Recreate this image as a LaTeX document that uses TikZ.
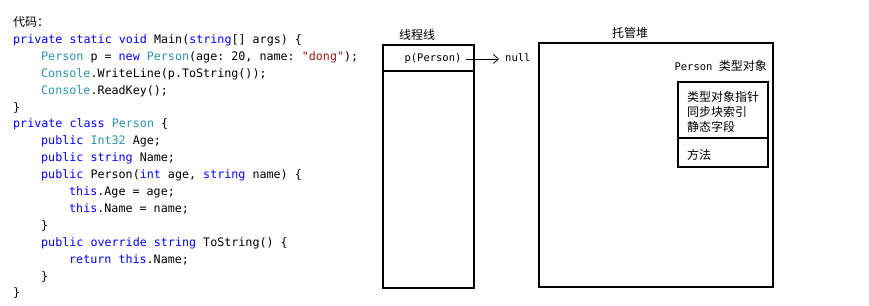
\documentclass[tikz,border=0pt]{standalone}
\usepackage{fontspec}
\setmonofont{DejaVu Sans Mono}
\newfontfamily\cjk{Noto Sans CJK SC}
\usetikzlibrary{arrows.meta}
\definecolor{kwblue}{RGB}{0,0,255}
\definecolor{tyteal}{RGB}{43,145,175}
\definecolor{strred}{RGB}{163,21,21}
\newcommand{\kw}[1]{\textcolor{kwblue}{#1}}
\newcommand{\ty}[1]{\textcolor{tyteal}{#1}}
\newcommand{\strlit}[1]{\textcolor{strred}{#1}}
\tikzset{codeline/.style={anchor=base west,inner sep=0pt,font=\fontsize{11.7}{14}\selectfont\ttfamily},
cjklabel/.style={inner sep=0pt,font=\fontsize{12}{15}\selectfont\cjk},
monolabel/.style={inner sep=2pt,font=\fontsize{10.5}{13}\selectfont\ttfamily},
memrect/.style={draw,line width=1.1pt,inner sep=0pt}}
\begin{document}
\begin{tikzpicture}[x=1pt,y=-1pt]
\useasboundingbox(0,0)rectangle(869,305);
\node[codeline,font=\fontsize{12}{15}\selectfont\cjk](c0)at(13,26.5){代码：};
\node[codeline](c1)at(13,43.4){\kw{private} \kw{static} \kw{void} Main(\kw{string}[] args) \{};
\node[codeline](c2)at(41,60.3){\ty{Person} p = \kw{new} \ty{Person}(age: 20, name: \strlit{"dong"});};
\node[codeline](c3)at(41,77.2){\ty{Console}.WriteLine(p.ToString());};
\node[codeline](c4)at(41,94.1){\ty{Console}.ReadKey();};
\node[codeline](c5)at(13,111){\}};
\node[codeline](c6)at(13,127.9){\kw{private} \kw{class} \ty{Person} \{};
\node[codeline](c7)at(41,144.8){\kw{public} \ty{Int32} Age;};
\node[codeline](c8)at(41,161.7){\kw{public} \kw{string} Name;};
\node[codeline](c9)at(41,178.6){\kw{public} Person(\kw{int} age, \kw{string} name) \{};
\node[codeline](c10)at(69,195.5){\kw{this}.Age = age;};
\node[codeline](c11)at(69,212.4){\kw{this}.Name = name;};
\node[codeline](c12)at(41,229.3){\}};
\node[codeline](c13)at(41,246.2){\kw{public} \kw{override} \kw{string} ToString() \{};
\node[codeline](c14)at(69,263.1){\kw{return} \kw{this}.Name;};
\node[codeline](c15)at(41,280){\}};
\node[codeline](c16)at(13,296.9){\}};
\node[cjklabel](stacklbl)at(417,35){线程线};
\node[memrect,minimum width=91pt,minimum height=243pt](stack)at(428.5,166.5){};
\draw[line width=1.1pt](383,71)--(474,71);
\node[monolabel](p)at(433,59){p(Person)};
\node[monolabel,anchor=west](null)at(503,58){null};
\draw[line width=.8pt,shorten <=2pt,-{Straight Barb[length=5pt,width=9pt]}](p.east)--([xshift=-4pt]null.west|-p.east);
\node[cjklabel](heaplbl)at(630,33){托管堆};
\node[memrect,minimum width=234pt,minimum height=244pt](heap)at(656,165){};
\node[inner sep=0pt,anchor=east](typeobj)at(767,66){\fontsize{10.5}{13}\selectfont\ttfamily Person \fontsize{12}{15}\selectfont\cjk 类型对象};
\node[memrect,minimum width=90pt,minimum height=85pt](tobox)at(723,124.5){};
\draw[line width=1.1pt](678,138)--(768,138);
\node[cjklabel,anchor=west](ptr)at(687,97){类型对象指针};
\node[cjklabel,anchor=west](sync)at(687,112){同步块索引};
\node[cjklabel,anchor=west](stat)at(687,127){静态字段};
\node[cjklabel,anchor=west](meth)at(687,155){方法};
\end{tikzpicture}
\end{document}
